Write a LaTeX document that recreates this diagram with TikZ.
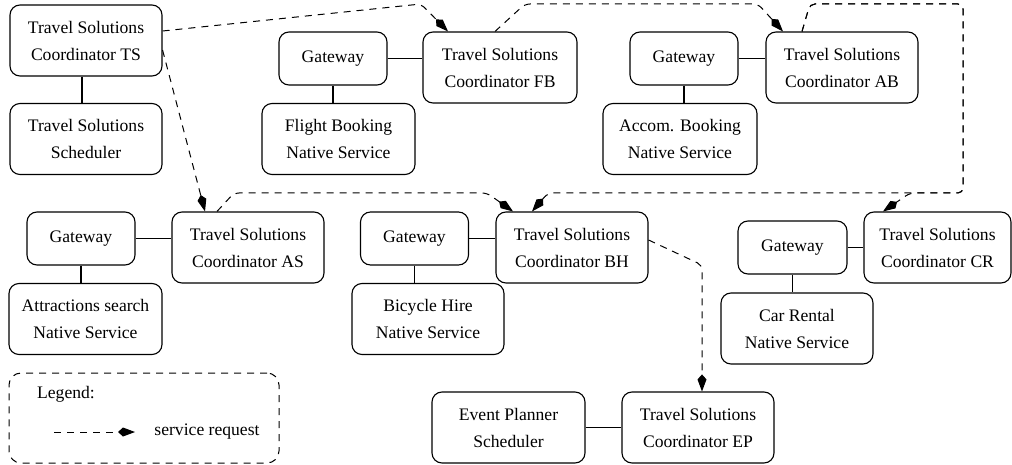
\documentclass[tikz,border=0pt]{standalone}
\usepackage{fontspec}
\setmainfont{Liberation Serif}
\usetikzlibrary{arrows.meta}
\tikzset{
  box/.style={draw, line width=1.1pt, rounded corners=10pt, align=center, inner sep=0pt,
    font=\fontsize{17.6}{27}\selectfont},
  gw/.style={box, minimum width=108pt, minimum height=53pt},
  big/.style={box, minimum width=152pt, minimum height=71pt},
  link/.style={line width=1.1pt},
  req/.style={line width=1pt, dash pattern=on 7pt off 6pt, rounded corners=5pt,
    -{Kite[length=17pt,width=9pt,inset=5pt]}},
  txt/.style={inner sep=0pt, font=\fontsize{17.6}{27}\selectfont},
}
\begin{document}
\begin{tikzpicture}[x=1pt,y=-1pt]
\useasboundingbox (0,0) rectangle (1012,465);
% top-left
\node[big] (TS) at (86,40.5) {Travel Solutions\\Coordinator TS};
\node[big] (TSS) at (86,139) {Travel Solutions\\Scheduler};
% flight booking
\node[gw] (GFB) at (333,58.5) {Gateway};
\node[big, minimum width=154pt] (FB) at (500,67.5) {Travel Solutions\\Coordinator FB};
\node[big, minimum width=153pt] (FBN) at (338.5,139) {Flight Booking\\Native Service};
% accommodation
\node[gw] (GAB) at (684,58.5) {Gateway};
\node[big] (AB) at (842,67.5) {Travel Solutions\\Coordinator AB};
\node[big, minimum width=154pt] (ABN) at (680,139) {Accom. Booking\\Native Service};
% attractions
\node[gw] (GAS) at (81,238.5) {Gateway};
\node[big] (AS) at (248,247.5) {Travel Solutions\\Coordinator AS};
\node[big, minimum width=153pt] (ASN) at (85.5,319) {Attractions search\\Native Service};
% bicycle hire
\node[gw] (GBH) at (414.5,238.5) {Gateway};
\node[big] (BH) at (572,247.5) {Travel Solutions\\Coordinator BH};
\node[big] (BHN) at (428,319) {Bicycle Hire\\Native Service};
% car rental
\node[gw, minimum width=109pt] (GCR) at (792.5,247.5) {Gateway};
\node[big, minimum width=147pt] (CR) at (937.5,247.5) {Travel Solutions\\Coordinator CR};
\node[big] (CRN) at (797,328.5) {Car Rental\\Native Service};
% event planner
\node[big, minimum width=153pt] (EPS) at (508.5,427.5) {Event Planner\\Scheduler};
\node[big] (EP) at (698,427.5) {Travel Solutions\\Coordinator EP};
% legend
\node[draw, line width=1pt, dash pattern=on 7pt off 6pt, rounded corners=12pt,
  minimum width=270pt, minimum height=90pt, inner sep=0pt] (LEG) at (144,418) {};
\node[txt] (LEGT) at (66,394) {Legend:};
\node[txt] (LEGS) at (207,432) {service request};
\coordinate (la) at (54,432);
\coordinate (lb) at (135,432);
\draw[req] (la) -- (lb);

% solid links
\draw[link] ([xshift=-4pt]TS.south) -- ([xshift=-4pt]TSS.north);
\draw[link] (GFB.east) -- (GFB.east -| FB.west);
\draw[link] (GFB.south) -- (GFB.south |- FBN.north);
\draw[link] (GAB.east) -- (GAB.east -| AB.west);
\draw[link] (GAB.south) -- (GAB.south |- ABN.north);
\draw[link] (GAS.east) -- (GAS.east -| AS.west);
\draw[link] (GAS.south) -- (GAS.south |- ASN.north);
\draw[link] (GBH.east) -- (GBH.east -| BH.west);
\draw[link] (GBH.south) -- (GBH.south |- BHN.north);
\draw[link] (GCR.east) -- (GCR.east -| CR.west);
\draw[link] (GCR.south) -- (GCR.south |- CRN.north);
\draw[link] (EPS.east) -- (EPS.east -| EP.west);

% service requests
\draw[req] ([yshift=9.5pt]TS.east) -- (421,4) -- ([xshift=-52pt]FB.north);
\draw[req] ([yshift=-9.5pt]TS.east) -- ([xshift=-43pt]AS.north);
\draw[req] ([xshift=-5pt]FB.north) -- (525,4) -- (758,4) -- ([xshift=-59pt]AB.north);
\draw[req] ([xshift=-40pt]AB.north) -- (810,4) -- (963,4) -- (963,193) -- (910,193) -- ([xshift=-54.5pt]CR.north);
\draw[req] ([xshift=-40pt]AB.north) -- (810,4) -- (963,4) -- (963,193) -- (548,193) -- ([xshift=-40pt]BH.north);
\draw[req] ([xshift=-31pt]AS.north) -- (234,193) -- (487,193) -- ([xshift=-59pt]BH.north);
\draw[req] ([yshift=7.5pt]BH.east) -- (702,265) -- ([xshift=4pt]EP.north);
\end{tikzpicture}
\end{document}
